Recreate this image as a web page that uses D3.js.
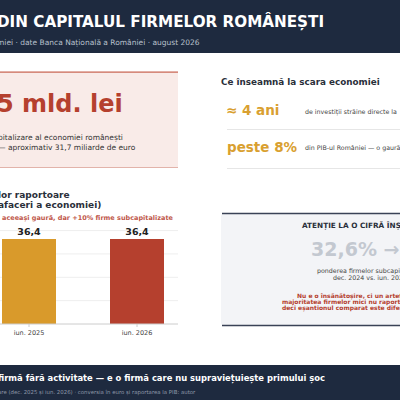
<!DOCTYPE html>
<html><head><meta charset="utf-8">
<script src="https://cdn.jsdelivr.net/npm/d3@7"></script>
<style>body{margin:0;background:#fff}svg{display:block;font-family:"DejaVu Sans",sans-serif}</style>
</head><body><svg id="c" width="400" height="400"></svg>
<script>
const categories = ["iun. 2025", "iun. 2026"];
const values = [36.4, 36.4];
const barColors = ["#d99a2b", "#b5402e"];
const yTicks = [0, 10, 20, 30, 40];

const svg = d3.select("#c");
const navy = "#1e2a3f";
function t(x, y, s, size, fill, weight, anchor) {
  return svg.append("text").attr("x", x).attr("y", y).text(s)
    .attr("font-size", size).attr("fill", fill).attr("font-weight", weight || "normal")
    .attr("text-anchor", anchor || "start");
}
// header
svg.append("rect").attr("width", 400).attr("height", 53).attr("fill", navy);
t(-3, 27, "DIN CAPITALUL FIRMELOR ROMÂNEȘTI", 15.2, "#fff", "bold");
t(-3, 45, "miei · date Banca Națională a României · august 2026", 7.5, "#b8c0cc");

// left card
svg.append("rect").attr("x", -10).attr("y", 72).attr("width", 188).attr("height", 96).attr("fill", "#f9ebe8");
svg.append("rect").attr("x", -10).attr("y", 71.5).attr("width", 188).attr("height", 1.2).attr("fill", "#c8614f");
svg.append("rect").attr("x", -10).attr("y", 167).attr("width", 188).attr("height", 1).attr("fill", "#e2b3aa");
t(-3, 112, "5 mld. lei", 24, "#b5402e", "bold");
t(-2, 140, "pitalizare al economiei românești", 7.5, "#333");
t(-2, 150, "— aproximativ 31,7 miliarde de euro", 7.5, "#333");

// right facts
t(221, 85, "Ce înseamnă la scara economiei", 8.8, "#2a2f3a", "bold");
t(226, 115, "≈ 4 ani", 13.5, "#d9a030", "bold");
t(305, 114, "de investiții străine directe la", 6.3, "#444");
svg.append("line").attr("x1", 227).attr("x2", 400).attr("y1", 129.5).attr("y2", 129.5).attr("stroke", "#e6e6e6");
t(227, 152, "peste 8%", 13.5, "#d9a030", "bold");
t(305, 150, "din PIB-ul României — o gaură", 6.3, "#444");
svg.append("line").attr("x1", 227).attr("x2", 400).attr("y1", 168.5).attr("y2", 168.5).attr("stroke", "#e6e6e6");

// chart
t(-2, 198, "lor raportoare", 9, "#2a2f3a", "bold");
t(-2, 208, "afaceri a economiei)", 9, "#2a2f3a", "bold");
t(2, 220, "aceeași gaură, dar +10% firme subcapitalizate", 6.5, "#c0574a", "bold");

const y = d3.scaleLinear().domain([0, 40]).range([324, 230.6]);
const x = d3.scaleBand().domain(categories).range([-25, 191]).paddingInner(0.5).paddingOuter(0.25);
svg.append("g").selectAll("line").data(yTicks.slice(1)).join("line")
  .attr("x1", 0).attr("x2", 178).attr("y1", d => y(d)).attr("y2", d => y(d)).attr("stroke", "#eeeeee");
svg.append("g").selectAll("rect").data(values).join("rect")
  .attr("x", (d, i) => x(categories[i])).attr("width", x.bandwidth())
  .attr("y", d => y(d)).attr("height", d => y(0) - y(d)).attr("fill", (d, i) => barColors[i]);
svg.append("g").selectAll("text").data(values).join("text")
  .attr("x", (d, i) => x(categories[i]) + x.bandwidth() / 2).attr("y", d => y(d) - 4)
  .attr("text-anchor", "middle").attr("font-size", 9.5).attr("font-weight", "bold").attr("fill", "#222")
  .text(d => d3.format(".1f")(d).replace(".", ","));
const ax = svg.append("g").attr("transform", `translate(0,${y(0)})`)
  .call(d3.axisBottom(x).tickSize(3).tickSizeOuter(0));
ax.select(".domain").attr("stroke", "#ccc").attr("d", "M0,0H178");
ax.selectAll("line").attr("stroke", "#ccc");
ax.selectAll("text").attr("font-size", 6.5).attr("fill", "#444").attr("font-family", "DejaVu Sans");

// right warning card
svg.append("rect").attr("x", 221).attr("y", 213).attr("width", 200).attr("height", 113).attr("rx", 4)
  .attr("fill", "#f3f4f7");
svg.append("path").attr("d", "M222,213.5H400 M222,325.5H400").attr("stroke", "#3a4256").attr("stroke-width", 1.6);
t(302, 228, "ATENȚIE LA O CIFRĂ ÎNȘE", 7.3, "#2a2f3a", "bold");
t(311, 256, "32,6%   →", 19, "#c3c8d0", "bold");
t(317, 273, "ponderea firmelor subcapit", 6.3, "#444");
t(333, 280, "dec. 2024 vs. iun. 202", 6.3, "#444");
t(297, 298, "Nu e o însănătoșire, ci un artef", 6, "#b5402e", "bold");
t(282, 304, "majoritatea firmelor mici nu raporte", 6, "#b5402e", "bold");
t(282, 310, "deci eșantionul comparat este difer", 6, "#b5402e", "bold");

// footer
svg.append("rect").attr("y", 365).attr("width", 400).attr("height", 35).attr("fill", navy);
t(-2, 381, "firmă fără activitate — e o firmă care nu supraviețuiește primului șoc", 8.4, "#fff", "bold");
t(-2, 394, "are (dec. 2025 și iun. 2026) · conversia în euro și raportarea la PIB: autor", 5.4, "#8e98a8");
</script></body></html>
